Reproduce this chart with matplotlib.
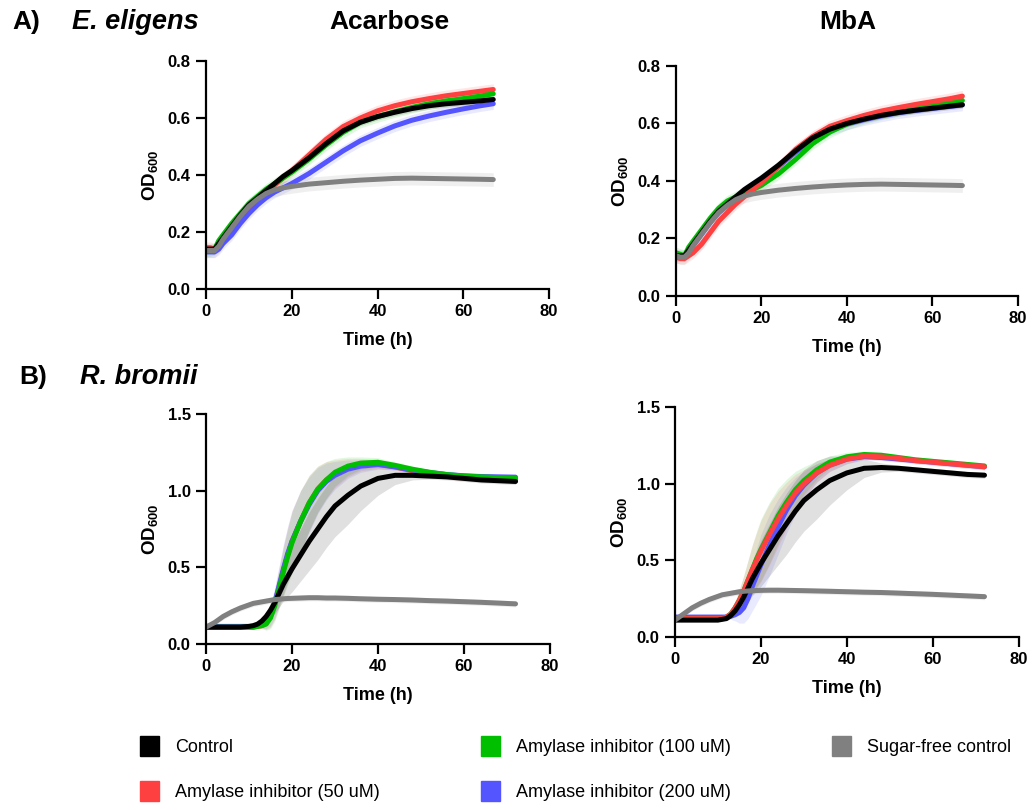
import matplotlib
matplotlib.use("Agg")
import matplotlib.pyplot as plt
from matplotlib.patches import Patch
from matplotlib.ticker import FormatStrFormatter

plt.rcParams['font.family'] = ['Liberation Sans', 'DejaVu Sans']
plt.rcParams['mathtext.fontset'] = 'custom'
plt.rcParams['mathtext.bf'] = 'Liberation Sans:bold'
plt.rcParams['mathtext.rm'] = 'Liberation Sans:bold'

labels = ['Control', 'Amylase inhibitor (50 uM)', 'Amylase inhibitor (100 uM)',
          'Amylase inhibitor (200 uM)', 'Sugar-free control']
colors = ['#000000', '#ff4040', '#00bf00', '#5555ff', '#808080']

# E. eligens time points (h)
t_e = [0, 1, 2, 3, 4, 6, 8, 10, 12, 14, 16, 18, 20, 24, 28, 32, 36, 40, 44, 48, 52, 56, 60, 64, 67]

ee_acarb = {
    'Control': [0.14, 0.14, 0.14, 0.16, 0.18, 0.22, 0.26, 0.295, 0.32, 0.345, 0.37, 0.395, 0.415,
                0.46, 0.51, 0.555, 0.585, 0.605, 0.62, 0.633, 0.643, 0.65, 0.655, 0.66, 0.665],
    '50': [0.145, 0.145, 0.14, 0.15, 0.17, 0.20, 0.24, 0.275, 0.305, 0.335, 0.365, 0.39, 0.415,
           0.47, 0.525, 0.57, 0.60, 0.625, 0.643, 0.657, 0.668, 0.678, 0.686, 0.694, 0.70],
    '100': [0.135, 0.135, 0.14, 0.17, 0.19, 0.23, 0.265, 0.30, 0.325, 0.35, 0.37, 0.39, 0.41,
            0.455, 0.505, 0.55, 0.585, 0.605, 0.622, 0.637, 0.65, 0.66, 0.668, 0.677, 0.685],
    '200': [0.13, 0.13, 0.13, 0.14, 0.16, 0.19, 0.23, 0.265, 0.295, 0.32, 0.34, 0.355, 0.37,
            0.405, 0.445, 0.485, 0.52, 0.547, 0.572, 0.592, 0.607, 0.62, 0.632, 0.643, 0.65],
    'SF': [0.135, 0.135, 0.135, 0.15, 0.175, 0.215, 0.255, 0.29, 0.315, 0.335, 0.348, 0.355, 0.36,
           0.368, 0.373, 0.378, 0.382, 0.385, 0.388, 0.389, 0.388, 0.387, 0.386, 0.385, 0.384],
}
ee_mba = {
    'Control': [0.14, 0.14, 0.14, 0.16, 0.18, 0.22, 0.26, 0.295, 0.32, 0.345, 0.37, 0.39, 0.41,
                0.455, 0.505, 0.55, 0.58, 0.60, 0.615, 0.628, 0.638, 0.646, 0.653, 0.66, 0.665],
    '50': [0.135, 0.13, 0.13, 0.14, 0.15, 0.18, 0.22, 0.26, 0.29, 0.32, 0.345, 0.37, 0.395,
           0.45, 0.51, 0.555, 0.59, 0.61, 0.628, 0.643, 0.655, 0.666, 0.676, 0.686, 0.695],
    '100': [0.15, 0.145, 0.14, 0.17, 0.19, 0.23, 0.27, 0.305, 0.33, 0.345, 0.36, 0.37, 0.385,
            0.425, 0.475, 0.53, 0.57, 0.598, 0.618, 0.633, 0.645, 0.656, 0.665, 0.673, 0.68],
    '200': [0.14, 0.14, 0.14, 0.155, 0.175, 0.215, 0.255, 0.29, 0.315, 0.34, 0.365, 0.385, 0.405,
            0.45, 0.50, 0.545, 0.578, 0.598, 0.613, 0.626, 0.637, 0.645, 0.652, 0.659, 0.664],
    'SF': [0.14, 0.135, 0.135, 0.15, 0.175, 0.215, 0.255, 0.29, 0.315, 0.335, 0.348, 0.355, 0.36,
           0.368, 0.374, 0.379, 0.383, 0.386, 0.388, 0.389, 0.388, 0.387, 0.386, 0.385, 0.384],
}
sd_ee = {'Control': 0.012, '50': 0.02, '100': 0.02, '200': 0.02, 'SF': 0.024}

# R. bromii time points (h)
t_r = [0, 2, 4, 6, 8, 10, 11, 12, 13, 14, 15, 16, 17, 18, 19, 20, 22, 24, 26, 28, 30, 33, 36,
       40, 44, 48, 52, 56, 60, 64, 68, 72]

rb_acarb = {
    'Control': [0.11, 0.11, 0.11, 0.11, 0.11, 0.115, 0.12, 0.13, 0.15, 0.18, 0.22, 0.27, 0.33,
                0.39, 0.44, 0.49, 0.58, 0.67, 0.75, 0.83, 0.90, 0.97, 1.03, 1.08, 1.10, 1.10,
                1.095, 1.09, 1.08, 1.07, 1.065, 1.06],
    '50': [0.11, 0.11, 0.11, 0.11, 0.11, 0.11, 0.11, 0.115, 0.12, 0.135, 0.18, 0.26, 0.37,
           0.48, 0.58, 0.67, 0.80, 0.92, 1.01, 1.07, 1.11, 1.15, 1.17, 1.175, 1.155, 1.13,
           1.11, 1.095, 1.085, 1.078, 1.075, 1.072],
    '100': [0.11, 0.11, 0.11, 0.11, 0.11, 0.11, 0.11, 0.115, 0.12, 0.13, 0.17, 0.25, 0.36,
            0.47, 0.57, 0.66, 0.80, 0.92, 1.01, 1.07, 1.12, 1.16, 1.18, 1.185, 1.165, 1.14,
            1.12, 1.105, 1.095, 1.09, 1.085, 1.08],
    '200': [0.115, 0.115, 0.115, 0.115, 0.115, 0.115, 0.115, 0.12, 0.125, 0.14, 0.19, 0.27, 0.38,
            0.49, 0.59, 0.67, 0.80, 0.91, 1.00, 1.06, 1.10, 1.14, 1.16, 1.17, 1.155, 1.135,
            1.118, 1.105, 1.097, 1.092, 1.09, 1.088],
    'SF': [0.11, 0.14, 0.18, 0.21, 0.235, 0.255, 0.265, 0.27, 0.275, 0.28, 0.285, 0.29, 0.292,
           0.295, 0.297, 0.298, 0.30, 0.302, 0.302, 0.30, 0.30, 0.298, 0.295, 0.292, 0.29,
           0.287, 0.283, 0.28, 0.276, 0.272, 0.267, 0.262],
}
rb_mba = {
    'Control': [0.11, 0.11, 0.11, 0.11, 0.11, 0.11, 0.115, 0.12, 0.14, 0.17, 0.21, 0.26, 0.32,
                0.38, 0.43, 0.48, 0.57, 0.66, 0.74, 0.82, 0.89, 0.96, 1.02, 1.07, 1.10, 1.105,
                1.10, 1.09, 1.08, 1.07, 1.06, 1.055],
    '50': [0.12, 0.12, 0.12, 0.12, 0.12, 0.12, 0.12, 0.13, 0.15, 0.19, 0.24, 0.30, 0.37,
           0.44, 0.50, 0.56, 0.67, 0.77, 0.86, 0.94, 1.00, 1.07, 1.12, 1.16, 1.18, 1.175,
           1.165, 1.15, 1.14, 1.13, 1.12, 1.11],
    '100': [0.12, 0.12, 0.12, 0.12, 0.12, 0.12, 0.12, 0.13, 0.15, 0.19, 0.24, 0.30, 0.37,
            0.44, 0.51, 0.57, 0.68, 0.79, 0.88, 0.96, 1.02, 1.09, 1.14, 1.175, 1.19, 1.185,
            1.17, 1.155, 1.145, 1.135, 1.125, 1.115],
    '200': [0.13, 0.13, 0.13, 0.13, 0.13, 0.13, 0.13, 0.13, 0.135, 0.145, 0.16, 0.19, 0.25,
            0.33, 0.40, 0.47, 0.60, 0.72, 0.83, 0.92, 0.99, 1.07, 1.12, 1.16, 1.175, 1.17,
            1.16, 1.15, 1.14, 1.13, 1.12, 1.11],
    'SF': [0.11, 0.15, 0.19, 0.22, 0.245, 0.265, 0.275, 0.28, 0.285, 0.29, 0.295, 0.298, 0.30,
           0.302, 0.303, 0.304, 0.305, 0.305, 0.304, 0.303, 0.302, 0.30, 0.298, 0.295, 0.292,
           0.29, 0.286, 0.282, 0.278, 0.273, 0.268, 0.263],
}
sd_rb_ctrl = [0.01, 0.01, 0.01, 0.01, 0.01, 0.01, 0.01, 0.01, 0.02, 0.03, 0.05, 0.07, 0.09, 0.11,
              0.13, 0.15, 0.17, 0.19, 0.20, 0.20, 0.20, 0.19, 0.16, 0.11, 0.06, 0.03, 0.02, 0.02,
              0.02, 0.02, 0.02, 0.02]
sd_rb_trt = [0.01, 0.01, 0.01, 0.01, 0.01, 0.01, 0.01, 0.01, 0.02, 0.04, 0.07, 0.10, 0.13, 0.16,
             0.18, 0.20, 0.20, 0.18, 0.15, 0.12, 0.09, 0.06, 0.04, 0.03, 0.02, 0.02, 0.02, 0.02,
             0.02, 0.02, 0.02, 0.02]
sd_rb_sf = 0.02

keys = ['Control', '50', '100', '200', 'SF']
col = dict(zip(keys, colors))

fig = plt.figure(figsize=(10.32, 8.10), dpi=100)

axes_pos = {
    'A1': [0.1996, 0.6432, 0.3324, 0.2815],
    'A2': [0.6550, 0.6346, 0.3314, 0.2840],
    'B1': [0.1996, 0.2049, 0.3333, 0.2840],
    'B2': [0.6540, 0.2136, 0.3333, 0.2840],
}


def style_axis(ax, ymax, ystep, fmt):
    ax.set_xlim(0, 80)
    ax.set_ylim(0, ymax)
    ax.set_xticks([0, 20, 40, 60, 80])
    yt = [i * ystep for i in range(int(round(ymax / ystep)) + 1)]
    ax.set_yticks(yt)
    ax.yaxis.set_major_formatter(FormatStrFormatter(fmt))
    for s in ['top', 'right']:
        ax.spines[s].set_visible(False)
    for s in ['left', 'bottom']:
        ax.spines[s].set_linewidth(1.6)
    ax.tick_params(width=1.6, length=7, labelsize=12, pad=4)
    for lab in ax.get_xticklabels() + ax.get_yticklabels():
        lab.set_fontweight('bold')
    ax.set_xlabel('Time (h)', fontsize=13, fontweight='bold', labelpad=9)
    ax.set_ylabel(r'OD$_{\mathregular{600}}$', fontsize=13.5, fontweight='bold', labelpad=5)


def draw(ax, t, data, sd, order):
    for k in order:
        y = data[k]
        s = sd[k]
        if isinstance(s, list):
            lo = [a - b for a, b in zip(y, s)]
            hi = [a + b for a, b in zip(y, s)]
        else:
            lo = [a - s for a in y]
            hi = [a + s for a in y]
        ax.fill_between(t, lo, hi, color=col[k], alpha=0.12, lw=0)
    for k in order:
        ax.plot(t, data[k], color=col[k], lw=3.6, solid_capstyle='round')


ax1 = fig.add_axes(axes_pos['A1'])
draw(ax1, t_e, ee_acarb, sd_ee, ['50', '200', '100', 'Control', 'SF'])
style_axis(ax1, 0.8, 0.2, '%.1f')

ax2 = fig.add_axes(axes_pos['A2'])
draw(ax2, t_e, ee_mba, sd_ee, ['200', '100', '50', 'Control', 'SF'])
style_axis(ax2, 0.8, 0.2, '%.1f')

sd_rb = {'Control': sd_rb_ctrl, '50': sd_rb_trt, '100': sd_rb_trt, '200': sd_rb_trt, 'SF': sd_rb_sf}

ax3 = fig.add_axes(axes_pos['B1'])
draw(ax3, t_r, rb_acarb, sd_rb, ['50', '200', '100', 'Control', 'SF'])
style_axis(ax3, 1.5, 0.5, '%.1f')

ax4 = fig.add_axes(axes_pos['B2'])
draw(ax4, t_r, rb_mba, sd_rb, ['200', '100', '50', 'Control', 'SF'])
style_axis(ax4, 1.5, 0.5, '%.1f')

# panel headings
fig.text(0.012, 0.973, 'A)', fontsize=19, fontweight='bold', va='center', ha='left')
fig.text(0.070, 0.973, 'E. eligens', fontsize=19.5, fontweight='bold', style='italic',
         va='center', ha='left')
fig.text(0.377, 0.973, 'Acarbose', fontsize=19, fontweight='bold', va='center', ha='center')
fig.text(0.821, 0.973, 'MbA', fontsize=19, fontweight='bold', va='center', ha='center')
fig.text(0.019, 0.535, 'B)', fontsize=19, fontweight='bold', va='center', ha='left')
fig.text(0.078, 0.535, 'R. bromii', fontsize=19.5, fontweight='bold', style='italic',
         va='center', ha='left')

handles = [Patch(facecolor=col[k], edgecolor=col[k]) for k in keys]
fig.legend(handles, labels, ncol=3, loc='upper left', bbox_to_anchor=(0.1199, 0.1115),
           frameon=False, handlelength=1.05, handleheight=1.3, handletextpad=0.9,
           columnspacing=5.6, labelspacing=1.4, borderpad=0.4,
           prop={'family': ['Liberation Sans Narrow', 'Liberation Sans'], 'size': 13})

fig.savefig('out.png', dpi=100)
